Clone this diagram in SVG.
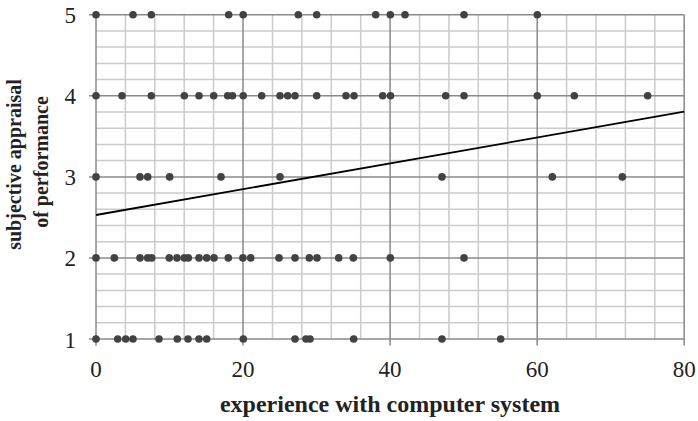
<svg xmlns="http://www.w3.org/2000/svg" width="698" height="421" viewBox="0 0 698 421">
  <style>
    .minor { stroke: #cbcbcb; stroke-width: 1.5; fill: none; }
    .major { stroke: #8a8a8a; stroke-width: 1.5; fill: none; }
    .trend { stroke: #000; stroke-width: 1.8; fill: none; }
    .pt { fill: #424242; }
    .tick { font-family: "Liberation Serif", "Times New Roman", serif; font-size: 23px; fill: #222; }
    .title { font-family: "Liberation Serif", "Times New Roman", serif; font-weight: bold; fill: #222; }
  </style>
  <rect width="698" height="421" fill="#fff"/>

  <!-- minor grid: every 4 units on x, every 0.2 on y -->
  <g id="grid-minor" class="minor">
    <path d="M125.4 14.7V339 M154.8 14.7V339 M184.2 14.7V339 M213.6 14.7V339
             M272.5 14.7V339 M301.9 14.7V339 M331.3 14.7V339 M360.7 14.7V339
             M419.5 14.7V339 M448.9 14.7V339 M478.3 14.7V339 M507.7 14.7V339
             M566.6 14.7V339 M596 14.7V339 M625.4 14.7V339 M654.8 14.7V339"/>
    <path d="M96 30.9H684 M96 47.1H684 M96 63.4H684 M96 79.6H684
             M96 112H684 M96 128.2H684 M96 144.4H684 M96 160.6H684
             M96 193.1H684 M96 209.3H684 M96 225.5H684 M96 241.7H684
             M96 274.1H684 M96 290.4H684 M96 306.6H684 M96 322.8H684"/>
  </g>

  <!-- major grid, axes and ticks -->
  <g id="grid-major" class="major">
    <path d="M96 14.7V345.5 M243 14.7V345.5 M390.1 14.7V345.5 M537.2 14.7V345.5 M684.2 14.7V345.5"/>
    <path d="M89 14.7H684 M89 95.8H684 M89 176.9H684 M89 257.9H684 M89 339H684"/>
  </g>

  <!-- least-squares trend line -->
  <g id="connectors">
    <line class="trend" x1="96" y1="215" x2="684.2" y2="111.7"/>
  </g>

  <!-- observations -->
  <g id="points">
    <g id="row-5">
      <circle class="pt" cx="96" cy="14.7" r="3.8"/>
      <circle class="pt" cx="133" cy="14.7" r="3.8"/>
      <circle class="pt" cx="151.3" cy="14.7" r="3.8"/>
      <circle class="pt" cx="228.7" cy="14.7" r="3.8"/>
      <circle class="pt" cx="243.2" cy="14.7" r="3.8"/>
      <circle class="pt" cx="298.3" cy="14.7" r="3.8"/>
      <circle class="pt" cx="316.7" cy="14.7" r="3.8"/>
      <circle class="pt" cx="375.7" cy="14.7" r="3.8"/>
      <circle class="pt" cx="390.3" cy="14.7" r="3.8"/>
      <circle class="pt" cx="405" cy="14.7" r="3.8"/>
      <circle class="pt" cx="464" cy="14.7" r="3.8"/>
      <circle class="pt" cx="537.3" cy="14.7" r="3.8"/>
    </g>
    <g id="row-4">
      <circle class="pt" cx="96" cy="95.8" r="3.8"/>
      <circle class="pt" cx="122" cy="95.8" r="3.8"/>
      <circle class="pt" cx="151.3" cy="95.8" r="3.8"/>
      <circle class="pt" cx="184.3" cy="95.8" r="3.8"/>
      <circle class="pt" cx="199" cy="95.8" r="3.8"/>
      <circle class="pt" cx="213.7" cy="95.8" r="3.8"/>
      <circle class="pt" cx="227.7" cy="95.8" r="3.8"/>
      <circle class="pt" cx="232.5" cy="95.8" r="3.8"/>
      <circle class="pt" cx="243.2" cy="95.8" r="3.8"/>
      <circle class="pt" cx="261.7" cy="95.8" r="3.8"/>
      <circle class="pt" cx="280" cy="95.8" r="3.8"/>
      <circle class="pt" cx="287.7" cy="95.8" r="3.8"/>
      <circle class="pt" cx="295" cy="95.8" r="3.8"/>
      <circle class="pt" cx="316.7" cy="95.8" r="3.8"/>
      <circle class="pt" cx="346" cy="95.8" r="3.8"/>
      <circle class="pt" cx="354" cy="95.8" r="3.8"/>
      <circle class="pt" cx="382.7" cy="95.8" r="3.8"/>
      <circle class="pt" cx="390.5" cy="95.8" r="3.8"/>
      <circle class="pt" cx="445.7" cy="95.8" r="3.8"/>
      <circle class="pt" cx="464" cy="95.8" r="3.8"/>
      <circle class="pt" cx="537.3" cy="95.8" r="3.8"/>
      <circle class="pt" cx="574.3" cy="95.8" r="3.8"/>
      <circle class="pt" cx="647.7" cy="95.8" r="3.8"/>
    </g>
    <g id="row-3">
      <circle class="pt" cx="96" cy="176.9" r="3.8"/>
      <circle class="pt" cx="140" cy="176.9" r="3.8"/>
      <circle class="pt" cx="147.7" cy="176.9" r="3.8"/>
      <circle class="pt" cx="169.7" cy="176.9" r="3.8"/>
      <circle class="pt" cx="221" cy="176.9" r="3.8"/>
      <circle class="pt" cx="280" cy="176.9" r="3.8"/>
      <circle class="pt" cx="442" cy="176.9" r="3.8"/>
      <circle class="pt" cx="552.3" cy="176.9" r="3.8"/>
      <circle class="pt" cx="622.3" cy="176.9" r="3.8"/>
    </g>
    <g id="row-2">
      <circle class="pt" cx="96" cy="257.9" r="3.8"/>
      <circle class="pt" cx="114.3" cy="257.9" r="3.8"/>
      <circle class="pt" cx="140" cy="257.9" r="3.8"/>
      <circle class="pt" cx="147.7" cy="257.9" r="3.8"/>
      <circle class="pt" cx="151.7" cy="257.9" r="3.8"/>
      <circle class="pt" cx="169.3" cy="257.9" r="3.8"/>
      <circle class="pt" cx="177" cy="257.9" r="3.8"/>
      <circle class="pt" cx="184.3" cy="257.9" r="3.8"/>
      <circle class="pt" cx="188.3" cy="257.9" r="3.8"/>
      <circle class="pt" cx="199" cy="257.9" r="3.8"/>
      <circle class="pt" cx="206.7" cy="257.9" r="3.8"/>
      <circle class="pt" cx="214" cy="257.9" r="3.8"/>
      <circle class="pt" cx="228.3" cy="257.9" r="3.8"/>
      <circle class="pt" cx="242.9" cy="257.9" r="3.8"/>
      <circle class="pt" cx="250.7" cy="257.9" r="3.8"/>
      <circle class="pt" cx="279" cy="257.9" r="3.8"/>
      <circle class="pt" cx="295" cy="257.9" r="3.8"/>
      <circle class="pt" cx="309.3" cy="257.9" r="3.8"/>
      <circle class="pt" cx="317" cy="257.9" r="3.8"/>
      <circle class="pt" cx="338.7" cy="257.9" r="3.8"/>
      <circle class="pt" cx="353.3" cy="257.9" r="3.8"/>
      <circle class="pt" cx="390.3" cy="257.9" r="3.8"/>
      <circle class="pt" cx="464" cy="257.9" r="3.8"/>
    </g>
    <g id="row-1">
      <circle class="pt" cx="96" cy="339" r="3.8"/>
      <circle class="pt" cx="117.7" cy="339" r="3.8"/>
      <circle class="pt" cx="125.7" cy="339" r="3.8"/>
      <circle class="pt" cx="133" cy="339" r="3.8"/>
      <circle class="pt" cx="159" cy="339" r="3.8"/>
      <circle class="pt" cx="177.3" cy="339" r="3.8"/>
      <circle class="pt" cx="188" cy="339" r="3.8"/>
      <circle class="pt" cx="199" cy="339" r="3.8"/>
      <circle class="pt" cx="206.7" cy="339" r="3.8"/>
      <circle class="pt" cx="243.3" cy="339" r="3.8"/>
      <circle class="pt" cx="295" cy="339" r="3.8"/>
      <circle class="pt" cx="306" cy="339" r="3.8"/>
      <circle class="pt" cx="310" cy="339" r="3.8"/>
      <circle class="pt" cx="353.7" cy="339" r="3.8"/>
      <circle class="pt" cx="442" cy="339" r="3.8"/>
      <circle class="pt" cx="500.7" cy="339" r="3.8"/>
    </g>
  </g>

  <!-- tick labels -->
  <g id="y-ticks" class="tick" text-anchor="end">
    <text x="76" y="23.2">5</text>
    <text x="76" y="104.3">4</text>
    <text x="76" y="185.4">3</text>
    <text x="76" y="266.4">2</text>
    <text x="76" y="347.5">1</text>
  </g>
  <g id="x-ticks" class="tick" text-anchor="middle">
    <text x="96" y="376.7">0</text>
    <text x="243" y="376.7">20</text>
    <text x="390.1" y="376.7">40</text>
    <text x="537.2" y="376.7">60</text>
    <text x="684.2" y="376.7">80</text>
  </g>

  <!-- axis titles -->
  <g id="x-title">
    <text class="title" x="390" y="411.5" font-size="24" text-anchor="middle">experience with computer system</text>
  </g>
  <g id="y-title">
    <text class="title" font-size="20" text-anchor="middle" transform="translate(20.5 162) rotate(-90)">
      <tspan x="0" dy="0">subjective appraisal</tspan>
      <tspan x="0" dy="27">of performance</tspan>
    </text>
  </g>
</svg>
